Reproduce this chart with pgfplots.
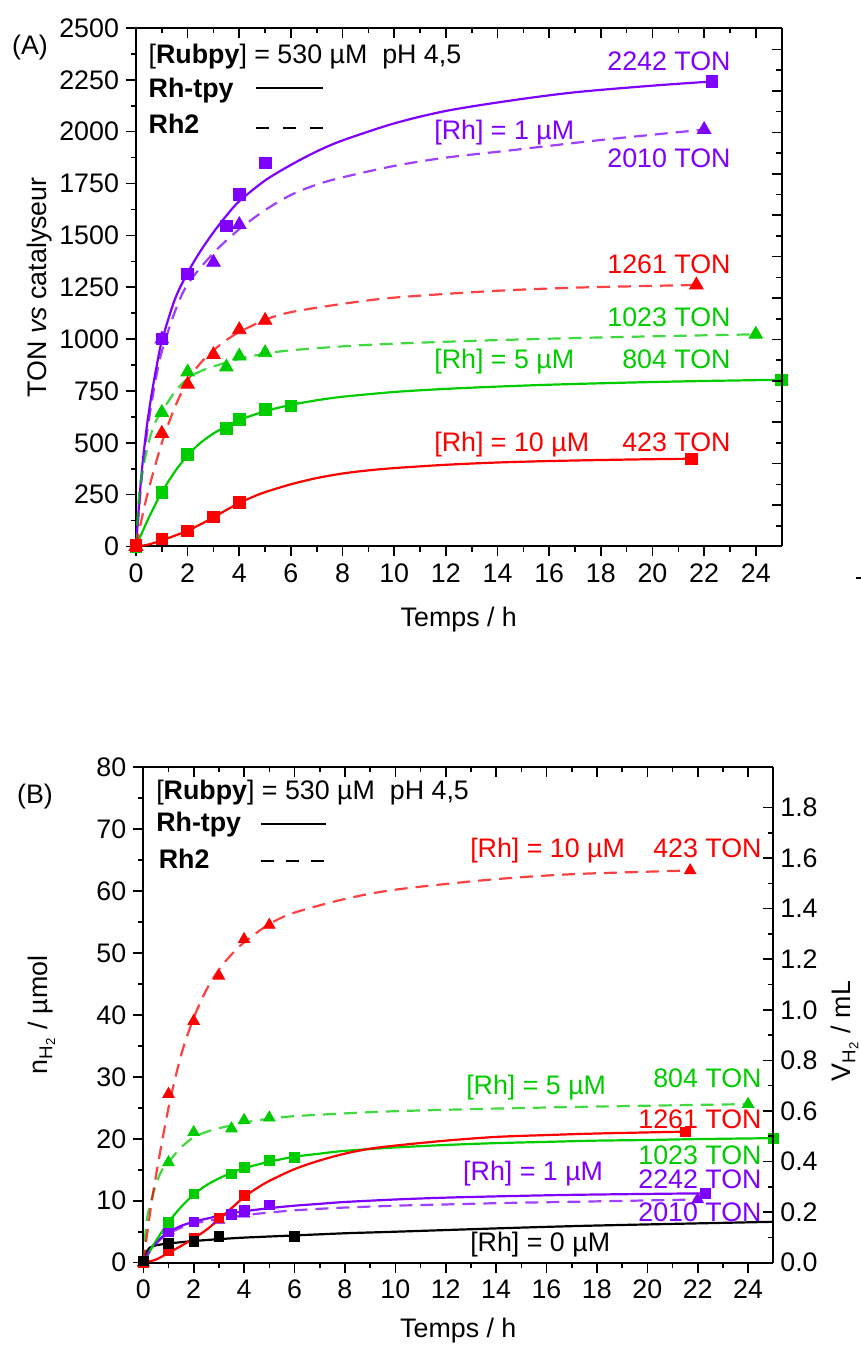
\documentclass[border=0pt]{standalone}
\usepackage{fontspec}
\setmainfont{Liberation Sans}
\usepackage{pgfplots}
\pgfplotsset{compat=1.18}
\definecolor{cpur}{RGB}{128,0,255}
\definecolor{cred}{RGB}{255,0,0}
\definecolor{cgrn}{RGB}{0,204,0}
\newcommand{\fs}{\fontsize{13.4}{16}\selectfont}
\tikzset{lab/.style={inner sep=0pt, font=\fs}}
\pgfplotsset{
  base/.style={
    scale only axis, xmin=0, xmax=25,
    xtick={0,2,...,24}, minor x tick num=1,
    major tick length=5pt, minor tick length=2.7pt,
    tick style={black, line width=0.8pt},
    axis line style={-, line width=1pt},
    every outer x axis line/.append style={-},
    every outer y axis line/.append style={-},
    every inner x axis line/.append style={-},
    every inner y axis line/.append style={-},
    tick label style={font=\fs},
    label style={font=\fs},
    /pgf/number format/assume math mode=true,
    /pgf/number format/1000 sep={},
    scaled ticks=false,
  },
  fit/.style={line width=1.1pt, smooth, tension=0.5, mark=none},
  dfit/.style={line width=1.1pt, smooth, tension=0.5, mark=none, dash pattern=on 6.5pt off 4pt, opacity=0.75},
  sqA/.style={only marks, mark=square*, mark size=2.9pt},
  trA/.style={only marks, mark=triangle*, mark size=3.9pt},
  sqB/.style={only marks, mark=square*, mark size=2.4pt},
  trB/.style={only marks, mark=triangle*, mark size=3.3pt},
}
\begin{document}
\begin{tikzpicture}[font=\fs]
% ================= Panel A =================
\begin{axis}[base, at={(68pt,399.75pt)}, anchor=origin, width=322.8pt, height=259.25pt,
  ymin=0, ymax=2500, ytick={0,250,...,2500}, minor y tick num=1,
  axis x line*=bottom, axis y line*=left, tick align=outside,
  xlabel={Temps / h}, ylabel={TON \textit{vs} catalyseur},
  xlabel style={at={(axis description cs:0.5,-0.1418)}, anchor=center},
  ylabel style={at={(axis description cs:-0.1487,0.5)}, anchor=center}]
% fits Rh-tpy (solid)
\addplot[fit, cpur] coordinates {(0,0)(0.2,330)(0.4,560)(0.6,730)(0.8,870)(1,990)(1.5,1190)(2,1320)(2.5,1425)(3,1515)(3.5,1595)(4,1665)(5,1765)(6,1840)(7,1905)(8,1958)(10,2040)(12,2100)(14.5,2150)(17,2190)(20,2222)(22.3,2242)};
\addplot[fit, cgrn] coordinates {(0,0)(0.5,140)(1,262)(1.5,360)(2,440)(2.5,500)(3,545)(3.5,580)(4,610)(5,652)(6,683)(7,705)(8,722)(10,745)(12,760)(14,771)(16,780)(18,787)(20,793)(22,798)(25,804)};
\addplot[fit, cred] coordinates {(0,0)(0.5,10)(1,30)(1.5,52)(2,76)(2.5,107)(3,140)(3.5,176)(4,210)(4.5,238)(5,262)(6,300)(7,330)(8,352)(9,367)(10,378)(12,394)(14,405)(16,412)(18,417)(20,421)(21.5,423)};
% fits Rh2 (dashed)
\addplot[dfit, cpur] coordinates {(0,0)(0.2,300)(0.4,520)(0.6,690)(0.8,830)(1,940)(1.5,1130)(2,1265)(3,1415)(4,1530)(5,1622)(6,1695)(7,1745)(8,1780)(10,1835)(12,1875)(14.5,1910)(18,1960)(22,2010)};
\addplot[dfit, cgrn] coordinates {(0,0)(0.15,288)(0.5,505)(0.75,600)(1,650)(1.5,745)(2,810)(2.5,845)(3,868)(4,905)(5,930)(6,946)(8,965)(10,978)(13.7,994)(18,1008)(24,1023)};
\addplot[dfit, cred] coordinates {(0,0)(0.25,150)(0.5,280)(1,500)(1.5,670)(2,800)(2.5,885)(3,946)(3.5,995)(4,1034)(5,1093)(6,1130)(8,1170)(10,1200)(13.7,1231)(17,1248)(21.7,1261)};
% data points
\addplot[trA, cpur] coordinates {(0,0)(1,1000)(3,1370)(4,1552)(22,2010)};
\addplot[trA, cgrn] coordinates {(0,0)(1,646)(2,841)(3.5,865)(4,918)(5,934)(24,1023)};
\addplot[trA, cred] coordinates {(0,0)(1,545)(2,782)(3,925)(4,1045)(5,1090)(21.7,1261)};
\addplot[sqA, cpur] coordinates {(0,0)(1,1000)(2,1315)(3.5,1545)(4,1697)(5,1850)(22.3,2242)};
\addplot[sqA, cgrn] coordinates {(0,0)(1,261)(2,444)(3.5,569)(4,612)(5,660)(6,678)(25,804)};
\addplot[sqA, cred] coordinates {(0,5)(1,36)(2,76)(3,143)(4,213)(21.5,423)};
% legend-like annotation
\node[lab, anchor=base west] at (axis cs:0.476,2329) {[\textbf{Rubpy}] = 530 µM\ \ pH 4,5};
\node[lab, anchor=base west] at (axis cs:0.476,2165) {\textbf{Rh-tpy}};
\node[lab, anchor=base west] at (axis cs:0.476,1989) {\textbf{Rh2}};
\draw[line width=1.1pt] (axis cs:4.65,2209) -- (axis cs:7.24,2209);
\draw[line width=1.1pt, dash pattern=on 6.3pt off 7.3pt] (axis cs:4.65,2019) -- (axis cs:7.24,2019);
% labels
\node[lab, anchor=base east, text=cpur] at (axis cs:23.04,2297) {2242 TON};
\node[lab, anchor=base west, text=cpur] at (axis cs:11.54,1962) {[Rh] = 1 µM};
\node[lab, anchor=base east, text=cpur] at (axis cs:23.04,1827) {2010 TON};
\node[lab, anchor=base east, text=cred] at (axis cs:23.04,1314) {1261 TON};
\node[lab, anchor=base east, text=cgrn] at (axis cs:23.04,1063) {1023 TON};
\node[lab, anchor=base west, text=cgrn] at (axis cs:11.54,856) {[Rh] = 5 µM};
\node[lab, anchor=base east, text=cgrn] at (axis cs:23.04,856) {804 TON};
\node[lab, anchor=base west, text=cred] at (axis cs:11.54,457) {[Rh] = 10 µM};
\node[lab, anchor=base east, text=cred] at (axis cs:23.04,457) {423 TON};
\end{axis}
\begin{axis}[base, at={(68pt,399.75pt)}, anchor=origin, width=322.8pt, height=259.25pt,
  ymin=0, ymax=12.52, ytick={0,1,...,12}, minor y tick num=1,
  axis x line*=top, axis y line*=right, tick align=inside,
  xticklabels={}, yticklabels={}]
\addplot[draw=none] coordinates {(0,0)};
\end{axis}
\draw[line width=0.7pt] (428pt,384pt) -- (432.5pt,384pt);
\node at (15pt,649pt) {(A)};
% ================= Panel B =================
\begin{axis}[base, at={(71.65pt,41.65pt)}, anchor=origin, width=315pt, height=247.85pt,
  ymin=0, ymax=80, ytick={0,10,...,80}, minor y tick num=1,
  axis x line*=bottom, axis y line*=left, tick align=outside,
  xlabel={Temps / h}, ylabel={n\textsubscript{H\textsubscript{2}} / µmol},
  xlabel style={at={(axis description cs:0.5,-0.1378)}, anchor=center},
  ylabel style={at={(axis description cs:-0.161,0.5)}, anchor=center}]
% fits Rh-tpy
\addplot[fit, black, tension=0.4] coordinates {(0,0)(0.1,1.5)(0.25,2.4)(0.5,2.8)(1,3.1)(2,3.5)(3,3.8)(4,4.05)(6,4.4)(8,4.75)(10,5.0)(14.5,5.6)(18,6.0)(25,6.6)};
\addplot[fit, cpur] coordinates {(0,0)(0.2,1.65)(0.4,2.8)(0.6,3.65)(0.8,4.35)(1,4.95)(1.5,5.95)(2,6.6)(2.5,7.1)(3,7.55)(3.5,7.95)(4,8.3)(5,8.8)(6,9.2)(7,9.5)(8,9.8)(10,10.2)(12,10.5)(14.5,10.75)(17,10.95)(20,11.1)(22.3,11.2)};
\addplot[fit, cgrn] coordinates {(0,0)(0.5,3.5)(1,6.55)(1.5,9)(2,11)(2.5,12.5)(3,13.6)(3.5,14.5)(4,15.25)(5,16.3)(6,17.1)(7,17.6)(8,18.05)(10,18.6)(12,19)(14,19.3)(16,19.5)(18,19.7)(20,19.8)(22,19.95)(25,20.1)};
\addplot[fit, cred] coordinates {(0,0)(0.5,0.5)(1,1.6)(1.5,2.7)(2,3.9)(2.5,5.3)(3,7.0)(3.5,8.8)(4,10.6)(4.5,12)(5,13.2)(6,15.1)(7,16.5)(8,17.6)(9,18.4)(10,18.9)(12,19.7)(14,20.3)(16,20.6)(18,20.85)(21.5,21.15)};
% fits Rh2
\addplot[dfit, cpur] coordinates {(0,0)(0.2,1.5)(0.4,2.6)(0.6,3.45)(0.8,4.15)(1,4.7)(1.5,5.65)(2,6.3)(3,7.05)(4,7.65)(5,8.1)(6,8.45)(7,8.7)(8,8.9)(10,9.2)(12,9.4)(14.5,9.65)(18,9.9)(22,10.2)};
\addplot[dfit, cgrn] coordinates {(0,0)(0.15,7.2)(0.5,12.6)(0.75,15)(1,16.25)(1.5,18.6)(2,20.25)(2.5,21.1)(3,21.7)(4,22.6)(5,23.25)(6,23.65)(8,24.1)(10,24.45)(13.7,24.85)(18,25.2)(24,25.6)};
\addplot[dfit, cred] coordinates {(0,0)(0.25,7.5)(0.5,14)(1,25)(1.5,33.5)(2,39.5)(2.5,44)(3,47.3)(3.5,49.75)(4,51.7)(5,54.65)(6,56.5)(8,58.7)(10,60.2)(13.7,61.8)(17,62.7)(21.7,63.3)};
% data points
\addplot[trB, cpur] coordinates {(0,0)(1,5.2)(3,6.9)(4,7.9)(22,10.2)};
\addplot[trB, cgrn] coordinates {(0,0)(1,16.2)(2,21.05)(3.5,21.65)(4,23)(5,23.4)(24,25.6)};
\addplot[trB, cred] coordinates {(0,0)(1,27.2)(2,39)(3,46.3)(4,52.2)(5,54.5)(21.7,63.3)};
\addplot[sqB, cpur] coordinates {(0,0)(1,5.0)(2,6.6)(3.5,7.75)(4,8.5)(5,9.3)(22.3,11.2)};
\addplot[sqB, cgrn] coordinates {(0,0)(1,6.55)(2,11.1)(3.5,14.3)(4,15.35)(5,16.5)(6,16.95)(25,20.1)};
\addplot[sqB, cred] coordinates {(0,0)(1,1.9)(2,4.0)(3,7.2)(4,10.9)(21.5,21.1)};
\addplot[sqB, black] coordinates {(0,0.3)(1,3.1)(2,3.4)(3,4.2)(6,4.2)};
% legend-like annotation
\node[lab, anchor=base west] at (axis cs:0.5,74.7) {[\textbf{Rubpy}] = 530 µM\ \ pH 4,5};
\node[lab, anchor=base west] at (axis cs:0.5,69.6) {\textbf{Rh-tpy}};
\node[lab, anchor=base west] at (axis cs:0.6,63.7) {\textbf{Rh2}};
\draw[line width=1.1pt] (axis cs:4.67,70.8) -- (axis cs:7.25,70.8);
\draw[line width=1.1pt, dash pattern=on 6.5pt off 6pt] (axis cs:4.67,64.8) -- (axis cs:7.25,64.8);
% labels
\node[lab, anchor=base west, text=cred] at (axis cs:12.96,65.4) {[Rh] = 10 µM};
\node[lab, anchor=base east, text=cred] at (axis cs:24.55,65.4) {423 TON};
\node[lab, anchor=base west, text=cgrn] at (axis cs:12.8,27.2) {[Rh] = 5 µM};
\node[lab, anchor=base east, text=cgrn] at (axis cs:24.55,28.2) {804 TON};
\node[lab, anchor=base east, text=cred] at (axis cs:24.55,21.7) {1261 TON};
\node[lab, anchor=base east, text=cgrn] at (axis cs:24.55,15.8) {1023 TON};
\node[lab, anchor=base west, text=cpur] at (axis cs:12.68,13.2) {[Rh] = 1 µM};
\node[lab, anchor=base east, text=cpur] at (axis cs:24.55,11.9) {2242 TON};
\node[lab, anchor=base east, text=cpur] at (axis cs:24.55,6.6) {2010 TON};
\node[lab, anchor=base west, text=black] at (axis cs:12.96,1.8) {[Rh] = 0 µM};
\end{axis}
\begin{axis}[base, at={(71.65pt,41.65pt)}, anchor=origin, width=315pt, height=247.85pt,
  ymin=0, ymax=1.96, ytick={0,0.2,0.4,0.6,0.8,1,1.2,1.4,1.6,1.8}, minor y tick num=1,
  axis x line*=top, axis y line*=right, tick align=inside,
  xticklabels={},
  yticklabel style={/pgf/number format/.cd, fixed, fixed zerofill, precision=1},
  ylabel={V\textsubscript{H\textsubscript{2}} / mL},
  ylabel style={at={(axis description cs:1.1137,0.467)}, anchor=center}]
\addplot[draw=none] coordinates {(0,0)};
\end{axis}
\node at (17.5pt,274.5pt) {(B)};
\pgfresetboundingbox
\useasboundingbox (0pt,0pt) rectangle (430.5pt,673pt);
\end{tikzpicture}
\end{document}
